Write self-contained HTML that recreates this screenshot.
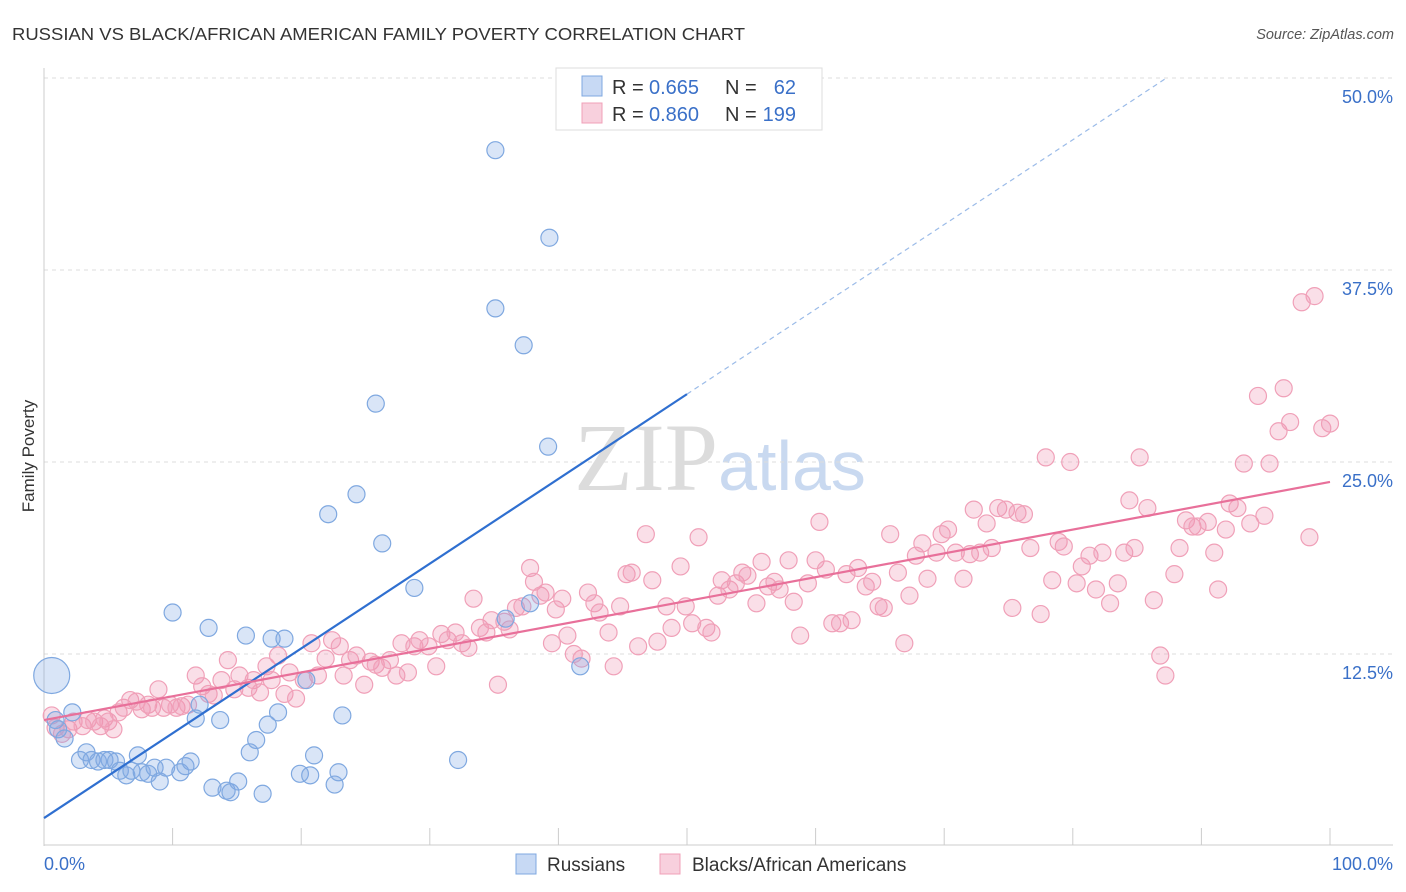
<!DOCTYPE html>
<html><head><meta charset="utf-8"><style>
body{margin:0;background:#fff;font-family:"Liberation Sans",sans-serif;}
svg{display:block}
</style></head><body>
<svg id="chart" width="1406" height="892" xmlns="http://www.w3.org/2000/svg">
<text x="12" y="40" font-size="17.5" fill="#333" textLength="733" lengthAdjust="spacingAndGlyphs" font-family="Liberation Sans, sans-serif">RUSSIAN VS BLACK/AFRICAN AMERICAN FAMILY POVERTY CORRELATION CHART</text>
<text x="1394" y="39" font-size="14.5" fill="#555" text-anchor="end" font-style="italic">Source: ZipAtlas.com</text>
<text x="720" y="490" font-size="96" text-anchor="middle"><tspan fill="#dcdcdc" font-family="Liberation Serif, serif">ZIP</tspan><tspan fill="#c9d9f0" font-family="Liberation Sans, sans-serif" font-size="70">atlas</tspan></text>
<g id="grid"></g>
<g id="axes"></g>
<g id="pink"></g>
<g id="blue"></g>
<g id="lines"></g>
<text transform="translate(34,456) rotate(-90)" font-size="17" fill="#333" text-anchor="middle">Family Poverty</text>
<g font-size="20">
<rect x="556" y="68" width="266" height="62" fill="#fff" stroke="#ddd"/>
<rect x="582" y="76" width="20" height="20" fill="rgba(130,170,230,0.45)" stroke="#7fa8e0"/>
<rect x="582" y="103" width="20" height="20" fill="rgba(240,150,180,0.45)" stroke="#f0a0b8"/>
<text x="612" y="94" fill="#333">R =</text><text x="649" y="94" fill="#3a70c8">0.665</text>
<text x="725" y="94" fill="#333">N =</text><text x="796" y="94" fill="#3a70c8" text-anchor="end">62</text>
<text x="612" y="121" fill="#333">R =</text><text x="649" y="121" fill="#3a70c8">0.860</text>
<text x="725" y="121" fill="#333">N =</text><text x="796" y="121" fill="#3a70c8" text-anchor="end">199</text>
</g>
<g>
<rect x="516" y="854" width="20" height="20" fill="rgba(130,170,230,0.45)" stroke="#7fa8e0"/>
<text x="547" y="871" font-size="19" fill="#333">Russians</text>
<rect x="660" y="854" width="20" height="20" fill="rgba(240,150,180,0.45)" stroke="#f0a0b8"/>
<text x="692" y="871" font-size="19" fill="#333">Blacks/African Americans</text>
</g>
</svg>
<script>
const yTicks=[12.5,25.0,37.5,50.0];
const xTickLabels=["0.0%","100.0%"];
const blueX=[0.6,0.9,1.1,1.6,2.2,2.8,3.3,3.7,4.2,4.7,5.1,5.6,5.9,6.4,6.8,7.3,7.6,8.1,8.6,9.0,9.5,10.0,10.6,11.0,11.4,11.8,12.1,12.8,13.1,13.7,14.2,14.5,15.1,15.7,16.0,16.5,17.0,17.4,17.7,18.2,18.7,19.9,20.4,20.7,21.0,22.1,22.6,22.9,23.2,24.3,25.8,26.3,28.8,32.2,35.1,35.1,35.9,37.3,37.8,39.2,39.3,41.7];
const blueY=[11.1,8.2,7.6,7.0,8.7,5.6,6.1,5.6,5.5,5.6,5.6,5.5,4.9,4.6,4.9,5.9,4.8,4.7,5.1,4.2,5.1,15.2,4.8,5.2,5.5,8.3,9.2,14.2,3.8,8.2,3.6,3.5,4.2,13.7,6.1,6.9,3.4,7.9,13.5,8.7,13.5,4.7,10.8,4.6,5.9,21.6,4.0,4.8,8.5,22.9,28.8,19.7,16.8,5.6,45.3,35.0,14.8,32.6,15.8,26.0,39.6,11.7];
const pinkX=[0.6,0.9,1.4,1.9,2.3,3.0,3.4,3.9,4.4,4.7,5.0,5.4,5.8,6.2,6.7,7.2,7.6,8.1,8.4,8.9,9.3,9.8,10.3,10.7,11.2,11.8,12.3,12.8,13.2,13.8,14.3,14.8,15.2,15.9,16.3,16.8,17.3,17.7,18.2,18.7,19.1,19.6,20.2,20.8,21.3,21.9,22.4,23.0,23.3,23.8,24.3,24.9,25.4,25.8,26.3,26.9,27.4,27.8,28.3,28.8,29.2,29.9,30.5,30.9,31.4,32.0,32.5,33.0,33.4,33.9,34.4,34.8,35.3,35.8,36.2,36.7,37.2,37.8,38.1,38.6,39.0,39.5,39.8,40.3,40.7,41.2,41.8,42.3,42.8,43.2,43.9,44.3,44.8,45.3,45.7,46.2,46.8,47.3,47.7,48.4,48.8,49.5,49.9,50.4,50.9,51.5,51.9,52.4,52.7,53.3,53.8,54.3,54.7,55.4,55.8,56.3,56.8,57.2,57.9,58.3,58.8,59.4,60.0,60.3,60.8,61.3,61.9,62.4,62.8,63.3,63.9,64.4,64.9,65.3,65.8,66.4,66.9,67.3,67.8,68.3,68.7,69.4,69.8,70.3,70.9,71.5,72.0,72.3,72.8,73.3,73.7,74.2,74.8,75.3,75.7,76.2,76.7,77.5,77.9,78.4,78.9,79.3,79.8,80.3,80.7,81.3,81.8,82.3,82.9,83.5,84.0,84.4,84.8,85.2,85.8,86.3,86.8,87.2,87.9,88.3,88.8,89.3,89.7,90.5,91.0,91.3,91.9,92.2,92.8,93.3,93.8,94.4,94.9,95.3,96.0,96.4,96.9,97.8,98.4,98.8,99.4,100.0];
const pinkY=[8.5,7.7,7.3,7.6,8.1,7.8,8.2,8.1,7.8,8.3,8.1,7.6,8.7,9.0,9.5,9.4,8.9,9.2,9.0,10.2,9.0,9.2,9.0,9.1,9.2,11.1,10.4,9.9,9.8,10.8,12.1,10.2,11.1,10.3,10.8,10.0,11.7,10.8,12.4,9.9,11.3,9.6,10.8,13.2,11.1,12.2,13.4,13.0,11.1,12.1,12.4,10.5,12.0,11.8,11.6,12.1,11.1,13.2,11.3,13.0,13.4,13.0,11.7,13.8,13.4,13.9,13.2,12.9,16.1,14.2,13.9,14.7,10.5,14.6,14.1,15.5,15.6,18.1,17.2,16.3,16.5,13.2,15.4,16.1,13.7,12.5,12.2,16.5,15.8,15.2,13.9,11.7,15.6,17.7,17.8,13.0,20.3,17.3,13.3,15.6,14.2,18.2,15.6,14.5,20.1,14.2,13.9,16.3,17.3,16.7,17.1,17.8,17.6,15.8,18.5,16.9,17.2,16.7,18.6,15.9,13.7,17.1,18.6,21.1,18.0,14.5,14.5,17.7,14.7,18.1,16.9,17.2,15.6,15.5,20.3,17.8,13.2,16.3,18.9,19.7,17.4,19.1,20.3,20.6,19.1,17.4,19.0,21.9,19.1,21.0,19.4,22.0,21.9,15.5,21.7,21.6,19.4,15.1,25.3,17.3,19.8,19.5,25.0,17.1,18.2,18.9,16.7,19.1,15.8,17.1,19.1,22.5,19.4,25.3,22.0,16.0,12.4,11.1,17.7,19.4,21.2,20.8,20.8,21.1,19.1,16.7,20.6,22.3,22.0,24.9,21.0,29.3,21.5,24.9,27.0,29.8,27.6,35.4,20.1,35.8,27.2,27.5];
const blueTrend=[1.82,0.552];
const pinkTrend=[8.2,0.155];
const NS="http://www.w3.org/2000/svg";
const X=v=>44+v*12.86, Y=v=>846-v*15.36;
function mk(t,a,p){const e=document.createElementNS(NS,t);for(const k in a)e.setAttribute(k,a[k]);p.appendChild(e);return e;}
const grid=document.getElementById('grid');
yTicks.forEach(t=>{
 const l=mk('line',{x1:44,x2:1393,y1:Y(t),y2:Y(t),stroke:'#ddd','stroke-dasharray':'4,4'},grid);
 
 
 const tx=mk('text',{x:1393,y:Y(t)+25,'text-anchor':'end','font-size':18,fill:'#3a70c8'},grid);
 tx.textContent=t.toFixed(1)+'%';
 
 
});
const axes=document.getElementById('axes');
mk('line',{x1:44,x2:44,y1:68,y2:846,stroke:'#ccc'},axes);
mk('line',{x1:44,x2:1393,y1:845,y2:845,stroke:'#ccc'},axes);
for(let i=1;i<=10;i++){const t=mk('line',{x1:X(i*10),x2:X(i*10),y1:828,y2:845,stroke:'#ccc'},axes);
 
 }
const xl0=mk('text',{x:44,y:870,'font-size':18,fill:'#3a70c8'},axes);xl0.textContent=xTickLabels[0];


const xl1=mk('text',{x:1393,y:870,'font-size':18,fill:'#3a70c8','text-anchor':'end'},axes);xl1.textContent=xTickLabels[1];


const pg=document.getElementById('pink');
pinkX.forEach((x,i)=>{const c=mk('circle',{cx:X(x),cy:Y(pinkY[i]),r:8.5,fill:'rgba(240,150,180,0.3)',stroke:'#f0a0b8','stroke-width':1.2},pg);
 
 });
const bg=document.getElementById('blue');
blueX.forEach((x,i)=>{const c=mk('circle',{cx:X(x),cy:Y(blueY[i]),r:i===0?18:8.5,fill:'rgba(130,170,230,0.3)',stroke:'#7fa8e0','stroke-width':1.2},bg);
 
 });
const lg=document.getElementById('lines');
const bt=x=>blueTrend[0]+blueTrend[1]*x, pt=x=>pinkTrend[0]+pinkTrend[1]*x;
const b1=mk('line',{x1:X(0),y1:Y(bt(0)),x2:X(50),y2:Y(bt(50)),stroke:'#2f6fd0','stroke-width':2.2},lg);


const xe=(50-blueTrend[0])/blueTrend[1];
const b2=mk('line',{x1:X(50),y1:Y(bt(50)),x2:X(xe),y2:Y(50),stroke:'#9bbbe8','stroke-width':1.2,'stroke-dasharray':'5,4'},lg);


const p1=mk('line',{x1:X(0),y1:Y(pt(0)),x2:X(100),y2:Y(pt(100)),stroke:'#e8709a','stroke-width':2.2},lg);


</script>
</body></html>
